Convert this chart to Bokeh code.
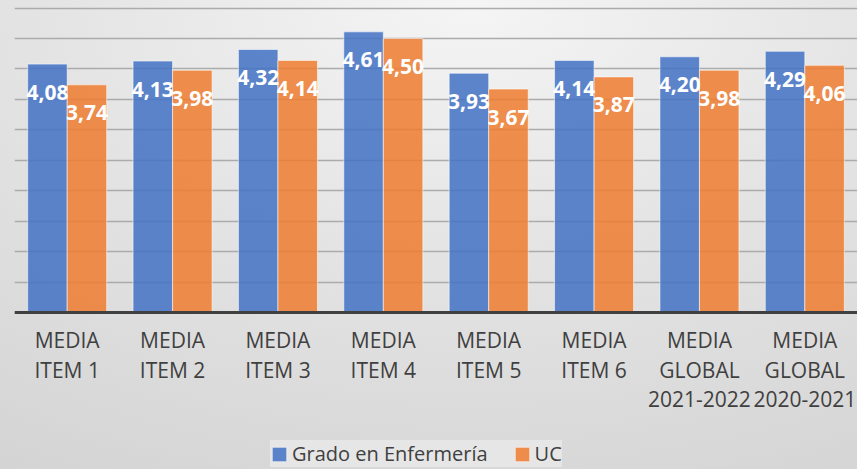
from bokeh.plotting import figure
from bokeh.models import ColumnDataSource, FactorRange, SingleIntervalTicker, Legend, LegendItem, Span
from bokeh.transform import dodge
from bokeh.core.properties import value
from bokeh.embed import file_html
from bokeh.resources import INLINE

categories = ["MEDIA\nITEM 1", "MEDIA\nITEM 2", "MEDIA\nITEM 3", "MEDIA\nITEM 4",
              "MEDIA\nITEM 5", "MEDIA\nITEM 6", "MEDIA\nGLOBAL\n2021-2022",
              "MEDIA\nGLOBAL\n2020-2021"]
grado = [4.08, 4.13, 4.32, 4.61, 3.93, 4.14, 4.20, 4.29]
uc = [3.74, 3.98, 4.14, 4.50, 3.67, 3.87, 3.98, 4.06]
series_names = ["Grado en Enfermería", "UC"]

def fmt(v):
    return f"{v:.2f}".replace(".", ",")

src = ColumnDataSource(dict(
    cat=categories, grado=grado, uc=uc,
    grado_lbl=[fmt(v) for v in grado], uc_lbl=[fmt(v) for v in uc],
))

BLUE = "#4472C4"
ORANGE = "#ED7D31"
TEXT = "#404040"
FONT = "Open Sans"

# frame covers the whole canvas below the 0 line too: value axis 0..5, room for labels and legend
p = figure(x_range=FactorRange(*categories, range_padding=0), y_range=(-2.579, 5.125),
           width=857, height=469, output_backend="svg", toolbar_location=None,
           min_border_left=14, min_border_right=0, min_border_top=0, min_border_bottom=0)
p.styles = {"background": "radial-gradient(ellipse 110% 120% at 55% 0%, #f5f5f5 0%, #e4e4e4 45%, #d3d3d3 100%)"}
p.border_fill_color = None
p.background_fill_color = None
p.outline_line_color = None
p.xaxis.visible = False
p.yaxis.visible = False

p.xgrid.grid_line_color = None
p.ygrid.ticker = SingleIntervalTicker(interval=0.5)
p.ygrid.bounds = (0, 5)
p.ygrid.grid_line_color = "#ababab"
p.ygrid.grid_line_width = 1.6

b1 = p.vbar(x=dodge("cat", -0.1875, range=p.x_range), top="grado", width=0.375, source=src,
            fill_color=BLUE, fill_alpha=0.86, line_color="white", line_alpha=0.55, line_width=1)
b2 = p.vbar(x=dodge("cat", 0.1875, range=p.x_range), top="uc", width=0.375, source=src,
            fill_color=ORANGE, fill_alpha=0.86, line_color="white", line_alpha=0.55, line_width=1)

p.add_layout(Span(location=0, dimension="width", line_color=TEXT, line_width=3))

for xoff, col in [(-0.1875, "grado"), (0.1875, "uc")]:
    p.text(x=dodge("cat", xoff, range=p.x_range), y=col, text=col + "_lbl", source=src,
           text_align="center", text_baseline="middle", y_offset=28,
           text_font=value(FONT), text_font_style="bold", text_font_size="21px",
           text_color="white")

# category labels under the baseline
p.text(x="cat", y=0, text="cat", source=src, text_align="center", text_baseline="top",
       y_offset=14, text_font=value(FONT), text_font_size="21px", text_color=TEXT,
       text_line_height=1.05)

legend = Legend(items=[LegendItem(label=series_names[0], renderers=[b1]),
                       LegendItem(label=series_names[1], renderers=[b2])],
                orientation="horizontal", location=(256, 2),
                label_text_font=FONT, label_text_font_size="20px", label_text_color=TEXT,
                glyph_width=18, glyph_height=18, label_standoff=4, spacing=25, padding=20,
                background_fill_color="#e6e6e6", background_fill_alpha=1.0,
                border_line_color=None)
p.add_layout(legend, "center")

open("out.html", "w").write(file_html(p, INLINE))
